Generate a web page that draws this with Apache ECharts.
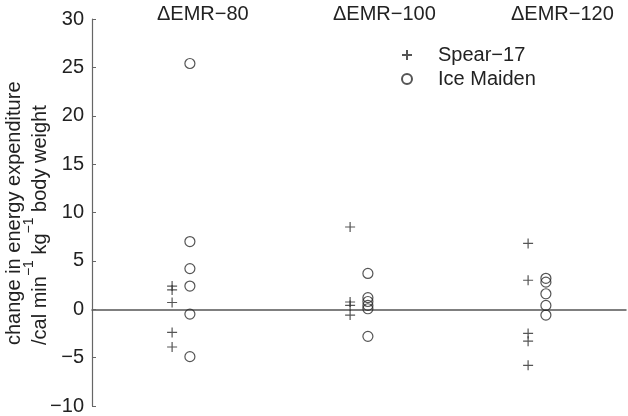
<!DOCTYPE html>
<html>
<head>
<meta charset="utf-8">
<script src="https://cdn.jsdelivr.net/npm/echarts@6/dist/echarts.min.js"></script>
<style>
  html, body { margin: 0; padding: 0; background: #fff; }
  #chart { width: 628px; height: 416px; }
</style>
</head>
<body>
<div id="chart"></div>
<script>
// values
const groups = ['ΔEMR−80', 'ΔEMR−100', 'ΔEMR−120']
const groupX = [1, 2, 3]
const spear80 = [2.4, 2.0, 0.7, -2.4, -3.9]
const spear100 = [8.5, 0.75, 0.4, -0.6]
const spear120 = [6.8, 3.0, -2.5, -3.3, -5.8]
const ice80 = [25.4, 7.0, 4.2, 2.4, -0.5, -4.9]
const ice100 = [3.7, 1.2, 0.8, 0.4, 0.05, -2.8]
const ice120 = [3.2, 2.8, 1.6, 0.4, -0.6]
const yTicks = [-10, -5, 0, 5, 10, 15, 20, 25, 30]

const font = '"Liberation Sans", Arial, Helvetica, sans-serif'
const ink = '#222'

function points (lists, offset) {
  let out = []
  lists.forEach(function (vals, i) {
    vals.forEach(function (v) { out.push([groupX[i] + offset, v]) })
  })
  return out
}

const chart = echarts.init(document.getElementById('chart'))
const option = {
  animation: false,
  grid: { left: 92, right: 2, top: 19, bottom: 10 },
  legend: {
    orient: 'vertical',
    left: 396,
    top: 40,
    itemWidth: 10,
    itemHeight: 10,
    itemGap: 4,
    textStyle: { fontFamily: font, fontSize: 20, color: ink, padding: [0, 0, 0, 21] },
    data: ['Spear−17', 'Ice Maiden']
  },
  xAxis: {
    type: 'value',
    min: 0.5,
    max: 3.5,
    axisLine: { show: true, onZero: true, lineStyle: { color: '#555', width: 1.5 } },
    axisTick: { show: false },
    axisLabel: { show: false },
    splitLine: { show: false }
  },
  yAxis: {
    type: 'value',
    min: yTicks[0],
    max: yTicks[yTicks.length - 1],
    interval: 5,
    axisLine: { show: true, onZero: false, lineStyle: { color: '#666', width: 1.2 } },
    axisTick: { show: true, inside: true, length: 4, lineStyle: { color: '#666' } },
    axisLabel: {
      fontFamily: font, fontSize: 20, color: ink, margin: 8,
      formatter: function (v) { return String(v).replace('-', '−') }
    },
    splitLine: { show: false }
  },
  graphic: [
    { type: 'text', x: 157, y: 14, style: { text: groups[0], font: '20px ' + font, fill: ink, textAlign: 'left', textVerticalAlign: 'middle' } },
    { type: 'text', x: 333, y: 14, style: { text: groups[1], font: '20px ' + font, fill: ink, textAlign: 'left', textVerticalAlign: 'middle' } },
    { type: 'text', x: 511, y: 14, style: { text: groups[2], font: '20px ' + font, fill: ink, textAlign: 'left', textVerticalAlign: 'middle' } },
    {
      type: 'text', x: 14, y: 345, rotation: Math.PI / 2,
      style: { text: 'change in energy expenditure', font: '20px ' + font, fill: ink, textAlign: 'left', textVerticalAlign: 'middle' }
    },
    {
      type: 'text', x: 36, y: 345, rotation: Math.PI / 2,
      style: {
        text: '{a|/cal min}{s|−1}{a| kg}{s|−1}{a| body weight}',
        fill: ink,
        textAlign: 'left',
        textVerticalAlign: 'middle',
        rich: {
          a: { fontFamily: font, fontSize: 20, lineHeight: 28, verticalAlign: 'bottom', fill: ink },
          s: { fontFamily: font, fontSize: 14, lineHeight: 14, verticalAlign: 'top', fill: ink }
        }
      }
    }
  ],
  series: [
    {
      name: 'Spear−17',
      type: 'scatter',
      symbol: 'path://M0,5L10,5M5,0L5,10',
      symbolSize: 10,
      itemStyle: { color: 'rgba(0,0,0,0)', borderColor: '#2a2a2a', borderWidth: 1.2 },
      data: points([spear80, spear100, spear120], -0.05)
    },
    {
      name: 'Ice Maiden',
      type: 'scatter',
      symbol: 'circle',
      symbolSize: 10,
      itemStyle: { color: 'rgba(0,0,0,0)', borderColor: '#2a2a2a', borderWidth: 1.2 },
      data: points([ice80, ice100, ice120], 0.05)
    }
  ]
}
chart.setOption(option)
</script>
</body>
</html>
